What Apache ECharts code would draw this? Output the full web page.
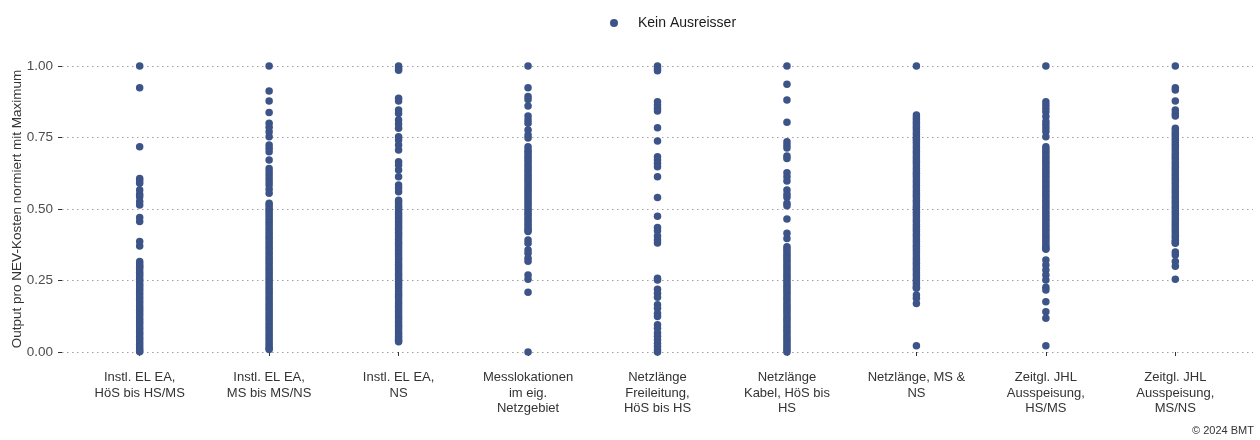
<!DOCTYPE html>
<html>
<head>
<meta charset="utf-8">
<script src="https://cdn.jsdelivr.net/npm/echarts@6/dist/echarts.min.js"></script>
<style>
  html, body { margin: 0; padding: 0; background: #ffffff; }
  #chart { width: 1260px; height: 440px; }
</style>
</head>
<body>
<div id="chart"></div>
<script>
// Category labels along the x axis
const categories = [
  'Instl. EL EA,\nHöS bis HS/MS',
  'Instl. EL EA,\nMS bis MS/NS',
  'Instl. EL EA,\nNS',
  'Messlokationen\nim eig.\nNetzgebiet',
  'Netzlänge\nFreileitung,\nHöS bis HS',
  'Netzlänge\nKabel, HöS bis\nHS',
  'Netzlänge, MS &\nNS',
  'Zeitgl. JHL\nAusspeisung,\nHS/MS',
  'Zeitgl. JHL\nAusspeisung,\nMS/NS'
];

// y axis tick values
const yTicks = [0, 0.25, 0.5, 0.75, 1];

const seriesName = 'Kein Ausreisser';
const yTitle = 'Output pro NEV-Kosten normiert mit Maximum';
const credit = '© 2024 BMT';

// Normalised output per network operator, one list per parameter
const instlElHoeS = [1.00, 0.924, 0.718, 0.607, 0.599, 0.590, 0.566, 0.552, 0.543, 0.526, 0.514, 0.470, 0.456, 0.386, 0.371,
  0.316, 0.309, 0.301, 0.296, 0.288, 0.279, 0.271, 0.263, 0.254, 0.247, 0.238, 0.231, 0.222, 0.214, 0.205, 0.197, 0.188,
  0.179, 0.171, 0.162, 0.154, 0.146, 0.137, 0.129, 0.120, 0.112, 0.103, 0.095, 0.086, 0.078, 0.069, 0.061, 0.052, 0.044,
  0.035, 0.027, 0.018, 0.011, 0.004, 0.001];

const instlElMs = [1.00, 0.913, 0.878, 0.837, 0.800, 0.786, 0.770, 0.753, 0.724, 0.712, 0.700, 0.671, 0.642, 0.630, 0.619,
  0.607, 0.595, 0.584, 0.569, 0.555, 0.520, 0.512, 0.503, 0.495, 0.486, 0.477, 0.468, 0.459, 0.451, 0.442, 0.433, 0.424,
  0.415, 0.406, 0.398, 0.389, 0.380, 0.371, 0.363, 0.354, 0.345, 0.336, 0.327, 0.319, 0.310, 0.301, 0.292, 0.284, 0.275,
  0.266, 0.257, 0.249, 0.240, 0.231, 0.222, 0.214, 0.205, 0.196, 0.187, 0.179, 0.170, 0.161, 0.152, 0.144, 0.135, 0.126,
  0.117, 0.109, 0.100, 0.091, 0.082, 0.074, 0.065, 0.056, 0.047, 0.039, 0.030, 0.021, 0.013, 0.009];

const instlElNs = [1.00, 0.992, 0.985, 0.887, 0.878, 0.846, 0.834, 0.811, 0.797, 0.782, 0.753, 0.741, 0.724, 0.706, 0.665,
  0.654, 0.636, 0.613, 0.584, 0.573, 0.560, 0.531, 0.523, 0.514, 0.506, 0.497, 0.488, 0.480, 0.471, 0.462, 0.454, 0.445,
  0.436, 0.428, 0.419, 0.410, 0.402, 0.393, 0.384, 0.376, 0.367, 0.358, 0.350, 0.341, 0.332, 0.324, 0.315, 0.306, 0.298,
  0.289, 0.280, 0.272, 0.263, 0.254, 0.246, 0.237, 0.228, 0.220, 0.211, 0.202, 0.194, 0.185, 0.176, 0.168, 0.159, 0.150,
  0.142, 0.133, 0.124, 0.116, 0.107, 0.098, 0.090, 0.081, 0.072, 0.064, 0.055, 0.047, 0.040, 0.036];

const messlokationen = [1.00, 0.924, 0.893, 0.883, 0.860, 0.825, 0.811, 0.800, 0.776, 0.759, 0.748, 0.718, 0.706, 0.698,
  0.689, 0.681, 0.672, 0.664, 0.655, 0.647, 0.638, 0.630, 0.621, 0.613, 0.604, 0.596, 0.587, 0.579, 0.570, 0.562, 0.553,
  0.545, 0.536, 0.528, 0.519, 0.511, 0.502, 0.494, 0.485, 0.477, 0.468, 0.460, 0.451, 0.443, 0.434, 0.427, 0.421, 0.392,
  0.380, 0.357, 0.345, 0.328, 0.317, 0.269, 0.254, 0.209, 0.000];

const netzFreileitung = [1.00, 0.991, 0.983, 0.875, 0.864, 0.852, 0.843, 0.784, 0.738, 0.683, 0.671, 0.660, 0.648, 0.613,
  0.540, 0.475, 0.435, 0.424, 0.406, 0.392, 0.381, 0.258, 0.252, 0.219, 0.205, 0.191, 0.165, 0.153, 0.135, 0.124, 0.095,
  0.083, 0.066, 0.055, 0.043, 0.031, 0.020, 0.008, 0.000];

const netzKabel = [1.00, 0.936, 0.881, 0.803, 0.735, 0.724, 0.713, 0.685, 0.677, 0.627, 0.613, 0.598, 0.566, 0.552, 0.541,
  0.520, 0.511, 0.465, 0.415, 0.397, 0.368, 0.360, 0.351, 0.342, 0.334, 0.325, 0.317, 0.308, 0.299, 0.291, 0.282, 0.273,
  0.265, 0.256, 0.248, 0.239, 0.230, 0.222, 0.213, 0.205, 0.196, 0.187, 0.179, 0.170, 0.161, 0.153, 0.144, 0.136, 0.127,
  0.118, 0.110, 0.101, 0.092, 0.084, 0.075, 0.067, 0.058, 0.049, 0.041, 0.032, 0.024, 0.015, 0.007, 0.000];

const netzMsNs = [1.00, 0.829, 0.820, 0.812, 0.803, 0.795, 0.786, 0.778, 0.769, 0.761, 0.752, 0.744, 0.735, 0.727, 0.718,
  0.710, 0.701, 0.693, 0.684, 0.676, 0.667, 0.659, 0.650, 0.642, 0.633, 0.625, 0.616, 0.608, 0.599, 0.591, 0.582, 0.574,
  0.565, 0.557, 0.548, 0.540, 0.531, 0.523, 0.514, 0.506, 0.497, 0.489, 0.480, 0.472, 0.463, 0.455, 0.446, 0.438, 0.429,
  0.421, 0.412, 0.404, 0.395, 0.387, 0.378, 0.370, 0.361, 0.353, 0.344, 0.336, 0.327, 0.319, 0.310, 0.302, 0.293, 0.285,
  0.276, 0.268, 0.259, 0.251, 0.242, 0.234, 0.226, 0.223, 0.199, 0.188, 0.170, 0.022];

const zeitglHsMs = [1.00, 0.875, 0.864, 0.852, 0.840, 0.823, 0.806, 0.795, 0.783, 0.771, 0.753, 0.718, 0.710, 0.701, 0.693,
  0.684, 0.676, 0.667, 0.659, 0.650, 0.642, 0.633, 0.625, 0.616, 0.608, 0.599, 0.591, 0.582, 0.574, 0.565, 0.557, 0.548,
  0.540, 0.531, 0.523, 0.514, 0.506, 0.497, 0.489, 0.480, 0.472, 0.463, 0.455, 0.446, 0.438, 0.429, 0.421, 0.412, 0.404,
  0.395, 0.387, 0.378, 0.370, 0.362, 0.359, 0.322, 0.304, 0.287, 0.269, 0.252, 0.226, 0.217, 0.176, 0.141, 0.118, 0.022];

const zeitglMsNs = [1.00, 0.924, 0.916, 0.878, 0.846, 0.834, 0.825, 0.782, 0.774, 0.765, 0.757, 0.748, 0.740, 0.731, 0.723,
  0.714, 0.706, 0.697, 0.689, 0.680, 0.672, 0.663, 0.655, 0.646, 0.638, 0.629, 0.621, 0.612, 0.604, 0.595, 0.587, 0.578,
  0.570, 0.561, 0.553, 0.544, 0.536, 0.527, 0.519, 0.510, 0.502, 0.493, 0.485, 0.476, 0.468, 0.459, 0.451, 0.442, 0.434,
  0.425, 0.417, 0.408, 0.400, 0.391, 0.383, 0.380, 0.350, 0.339, 0.316, 0.300, 0.254];

const columns = [instlElHoeS, instlElMs, instlElNs, messlokationen, netzFreileitung, netzKabel, netzMsNs, zeitglHsMs, zeitglMsNs];

// Flatten into [category position, value] pairs for the scatter series
const points = [];
columns.forEach((vals, i) => vals.forEach(v => points.push([i + 1, v])));
const catPositions = categories.map((_, i) => i + 1);

const FONT = '"Liberation Sans", Arial, sans-serif';
const DOT = '#3C5488';

const chart = echarts.init(document.getElementById('chart'), null, { renderer: 'canvas' });
chart.setOption({
  animation: false,
  backgroundColor: '#ffffff',
  textStyle: { fontFamily: FONT },
  legend: {
    top: 11,
    left: 605,
    itemWidth: 38,
    itemHeight: 8,
    icon: 'circle',
    textStyle: { fontFamily: FONT, fontSize: 14, color: '#1a1a1a' },
    data: [seriesName]
  },
  grid: { left: 62, right: 7, top: 66, height: 286, containLabel: false, outerBoundsMode: 'none' },
  xAxis: {
    type: 'value',
    min: 0.4,
    max: 9.6,
    offset: 14,
    axisLine: { show: false },
    splitLine: { show: false },
    axisTick: { show: true, customValues: catPositions, length: 4, lineStyle: { color: '#333333' } },
    axisLabel: {
      customValues: catPositions,
      formatter: v => categories[Math.round(v) - 1],
      fontFamily: FONT,
      fontSize: 13,
      lineHeight: 15.5,
      color: '#333333',
      margin: 4,
      verticalAlign: 'top'
    }
  },
  yAxis: {
    type: 'value',
    min: yTicks[0],
    max: yTicks[yTicks.length - 1],
    interval: 0.25,
    name: yTitle,
    nameLocation: 'middle',
    nameRotate: 90,
    nameGap: 38,
    nameMoveOverlap: false,
    nameTextStyle: { fontFamily: FONT, fontSize: 13.5, color: '#333333' },
    axisLine: { show: false },
    axisTick: { show: true, length: 4, lineStyle: { color: '#333333' } },
    axisLabel: {
      formatter: v => v.toFixed(2),
      fontFamily: FONT,
      fontSize: 13.5,
      color: '#4d4d4d',
      margin: 9
    },
    splitLine: { show: true, lineStyle: { color: '#a0a0a0', width: 1, type: [1.5, 3.5] } }
  },
  graphic: [{
    type: 'text',
    right: 6,
    bottom: 4,
    style: { text: credit, font: '11px ' + FONT, fill: '#333333' }
  }],
  series: [{
    name: seriesName,
    type: 'scatter',
    data: points,
    clip: false,
    symbol: 'circle',
    symbolSize: 7.5,
    itemStyle: { color: DOT, opacity: 1 },
    emphasis: { disabled: true }
  }]
});
</script>
</body>
</html>
